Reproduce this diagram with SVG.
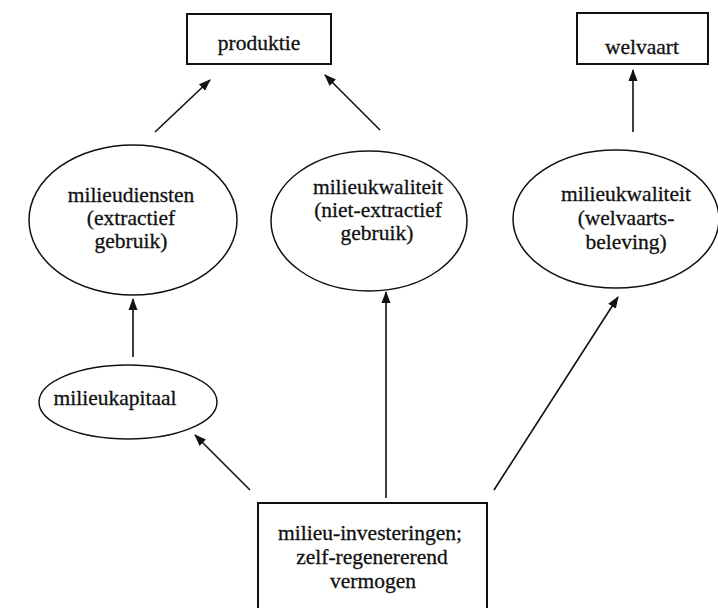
<svg xmlns="http://www.w3.org/2000/svg" width="718" height="608" viewBox="0 0 718 608">
<style>
.box{fill:none;stroke:#111;stroke-width:2}
.ell{fill:none;stroke:#111;stroke-width:1.5}
.t{font-family:"Liberation Serif","Times New Roman",serif;font-size:21.5px;fill:#111;stroke:#111;stroke-width:0.3;text-anchor:middle}
.c{stroke:#111;stroke-width:1.6;fill:none;marker-end:url(#ah)}
</style>
<defs>
<marker id="ah" markerUnits="userSpaceOnUse" markerWidth="12" markerHeight="12" viewBox="0 0 12 12" refX="11" refY="6" orient="auto">
<path d="M0,1.5 L12,6 L0,10.5 z" fill="#111"/>
</marker>
</defs>
<rect width="718" height="608" fill="#fff"/>
<g id="connectors">
<line class="c" x1="155" y1="132" x2="210" y2="80"/>
<line class="c" x1="380" y1="130" x2="325" y2="75"/>
<line class="c" x1="633" y1="132" x2="633" y2="70"/>
<line class="c" x1="133" y1="357" x2="133" y2="299"/>
<line class="c" x1="386" y1="498" x2="386" y2="292"/>
<line class="c" x1="250" y1="490" x2="195" y2="435"/>
<line class="c" x1="494" y1="490" x2="618" y2="297"/>
</g>
<g id="produktie">
<rect class="box" x="187" y="14" width="144" height="50"/>
<text class="t" x="259" y="50">produktie</text>
</g>
<g id="welvaart">
<rect class="box" x="577" y="13" width="131" height="51"/>
<text class="t" x="642" y="54">welvaart</text>
</g>
<g id="milieudiensten">
<ellipse class="ell" cx="133" cy="220" rx="104" ry="75"/>
<text class="t" x="131" y="202">milieudiensten</text>
<text class="t" x="131" y="225">(extractief</text>
<text class="t" x="131" y="248">gebruik)</text>
</g>
<g id="milieukwaliteit-niet-extractief">
<ellipse class="ell" cx="369" cy="221" rx="98" ry="70"/>
<text class="t" x="378" y="194">milieukwaliteit</text>
<text class="t" x="378" y="217">(niet-extractief</text>
<text class="t" x="377" y="240">gebruik)</text>
</g>
<g id="milieukwaliteit-welvaart">
<ellipse class="ell" cx="616" cy="219" rx="103" ry="69"/>
<text class="t" x="626" y="201">milieukwaliteit</text>
<text class="t" x="626" y="225">(welvaarts-</text>
<text class="t" x="626" y="249">beleving)</text>
</g>
<g id="milieukapitaal">
<ellipse class="ell" cx="128" cy="402" rx="89" ry="37"/>
<text class="t" x="115" y="405">milieukapitaal</text>
</g>
<g id="investeringen">
<rect class="box" x="258" y="503" width="229" height="115"/>
<text class="t" x="370" y="540">milieu-investeringen;</text>
<text class="t" x="372" y="564">zelf-regenererend</text>
<text class="t" x="373" y="588">vermogen</text>
</g>
</svg>
